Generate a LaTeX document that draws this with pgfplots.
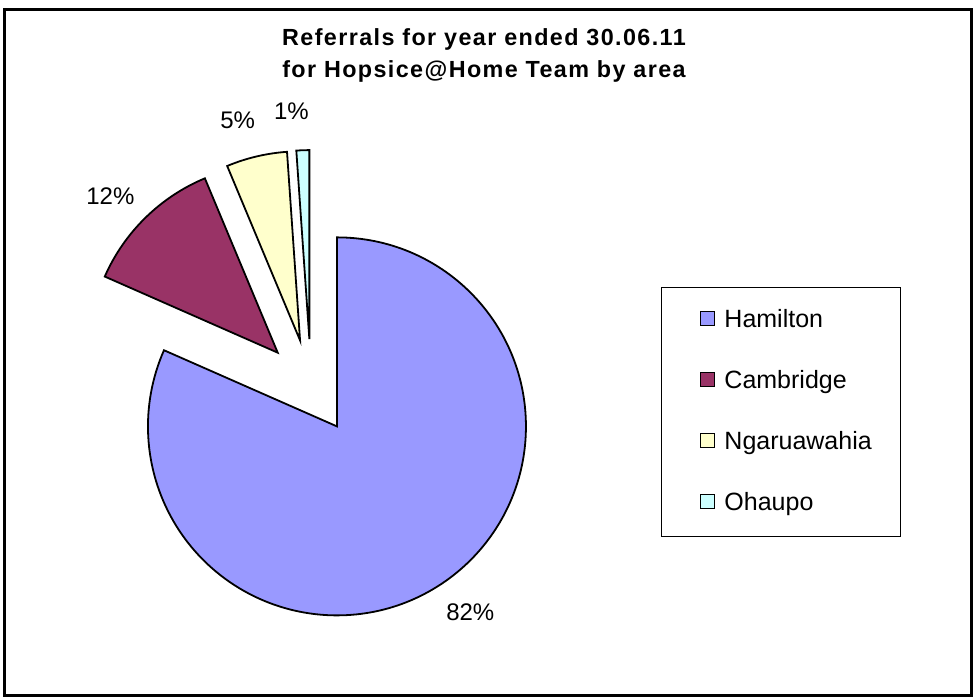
\documentclass[border=0pt]{standalone}
\usepackage{pgfplots}
\pgfplotsset{compat=1.18}
\usepackage{pgfplotstable}
\usepackage{fontspec}
\setmainfont{Liberation Sans}
\newfontfamily\titlefont[LetterSpace=6]{Liberation Sans}

\definecolor{hamilton}{HTML}{9999FF}
\definecolor{cambridge}{HTML}{993366}
\definecolor{ngaru}{HTML}{FFFFCC}
\definecolor{ohaupo}{HTML}{CCFFFF}

% share of referrals by area (percent)
\pgfplotstableread{
area        value color
Hamilton    81.6  hamilton
Cambridge   12.1  cambridge
Ngaruawahia 5.2   ngaru
Ohaupo      1.1   ohaupo
}\referrals

% pie geometry, in pixels of the reference (1px = 0.75pt)
\def\pcx{311}
\def\pcy{310.4}
\def\explode{47.5}
\def\rpx{189}
\def\lblr{229}

\begin{document}
\begin{tikzpicture}
\begin{axis}[
  x=0.75pt, y=0.75pt,
  xmin=0, xmax=976, ymin=0, ymax=697,
  hide axis, clip=false,
  legend image code/.code={\draw[#1] (0pt,-5.25pt) rectangle (10.5pt,5.25pt);},
  legend style={at={(axis cs:700,387.9)}, anchor=north west, draw=none, fill=none,
    inner sep=0pt, row sep=32.35pt, column sep=6.75pt,
    font=\fontsize{18.75}{22}\selectfont,
    nodes={inner sep=0pt, text height=13.4pt, text depth=0pt}},
  legend cell align=left,
]
\path (axis cs:0,0) rectangle (axis cs:976,697);
\draw[line width=2.25pt] (axis cs:4.3,687.8) rectangle (axis cs:971,1.5);

\def\cum{0}
\pgfplotsforeachungrouped \i in {0,...,3} {
  \pgfplotstablegetelem{\i}{value}\of\referrals \let\val\pgfplotsretval
  \pgfplotstablegetelem{\i}{color}\of\referrals \let\col\pgfplotsretval
  \pgfplotstablegetelem{\i}{area}\of\referrals \let\nm\pgfplotsretval
  \pgfmathsetmacro\a{90-3.6*\cum}
  \pgfmathsetmacro\b{90-3.6*(\cum+\val)}
  \pgfmathsetmacro\m{(\a+\b)/2}
  \pgfmathsetmacro\cx{\pcx+\explode*cos(\m)}
  \pgfmathsetmacro\cy{\pcy+\explode*sin(\m)}
  \pgfmathsetmacro\lx{\cx+\lblr*cos(\m+2.5)}
  \pgfmathsetmacro\ly{\cy+\lblr*sin(\m+2.5)}
  \pgfmathtruncatemacro\pct{round(\val)}
  \edef\slice{%
    \noexpand\filldraw[fill=\col, draw=black, line width=1.35pt]
      (axis cs:\cx,\cy) -- ++(\a:\rpx*0.75pt)
      arc[start angle=\a, end angle=\b, radius=\rpx*0.75pt] -- cycle;
    \noexpand\node[font=\noexpand\fontsize{18}{21}\noexpand\selectfont]
      at (axis cs:\lx,\ly) {\pct\noexpand\%};
    \noexpand\addlegendimage{fill=\col, draw=black, line width=0.9pt}
    \noexpand\addlegendentry{\nm}
  }
  \slice
  \pgfmathsetmacro\cum{\cum+\val}
}

\draw[line width=0.75pt] (axis cs:661,409) rectangle (axis cs:900,160);

\node[anchor=base, font=\titlefont\bfseries\fontsize{17.5}{23}\selectfont]
  at (axis cs:484,651) {Referrals for year ended 30.06.11};
\node[anchor=base, font=\titlefont\bfseries\fontsize{17.5}{23}\selectfont]
  at (axis cs:484,619.7) {for Hopsice@Home Team by area};
\end{axis}
\end{tikzpicture}
\end{document}
